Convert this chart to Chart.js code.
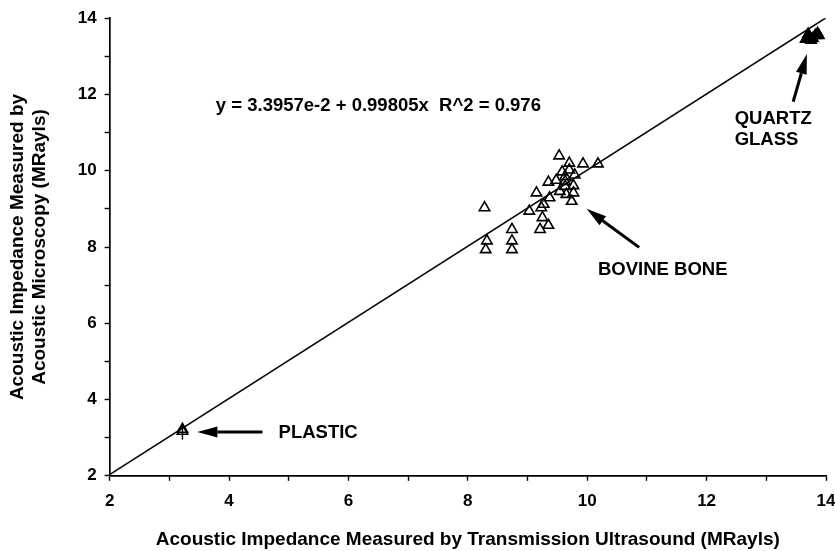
<!DOCTYPE html>
<html>
<head>
<meta charset="utf-8">
<script src="https://cdn.jsdelivr.net/npm/chart.js@4/dist/chart.umd.min.js"></script>
<style>
  html, body { margin: 0; padding: 0; background: #ffffff; }
  #wrap { width: 835px; height: 551px; position: relative; }
</style>
</head>
<body>
<div id="wrap"><canvas id="c"></canvas></div>
<script>
// ---- data (MRayls) ----
const boneX = [8.28, 8.32, 8.30, 8.74, 8.74, 8.74, 9.03, 9.23, 9.25, 9.21, 9.35,
               9.53, 9.70, 9.93, 10.18, 9.70, 9.79, 9.63, 9.35, 9.48, 9.63, 9.77,
               9.63, 9.54, 9.77, 9.15, 9.74, 9.37, 9.58, 9.27, 9.65];
const boneY = [9.03, 8.16, 7.93, 8.46, 8.16, 7.93, 8.94, 9.03, 8.77, 8.46, 8.57,
               10.39, 10.20, 10.18, 10.18, 10.02, 9.89, 9.85, 9.70, 9.75, 9.72, 9.61,
               9.59, 9.46, 9.42, 9.42, 9.20, 9.29, 9.97, 9.12, 9.38];
const quartzX = [13.66, 13.72, 13.78, 13.70, 13.82, 13.75, 13.88, 13.86];
const quartzY = [13.45, 13.52, 13.47, 13.58, 13.55, 13.42, 13.55, 13.60];
const plasticX = [3.22, 3.22];
const plasticY = [3.17, 3.22];
const plasticErr = [0.22, 0.0];
const fitX = [2, 14];
const fitY = [2.03, 14.01];
const xTicks = [2, 4, 6, 8, 10, 12, 14];
const yTicks = [2, 4, 6, 8, 10, 12, 14];

// ---- annotations (data units) ----
const noteText = ['y = 3.3957e-2 + 0.99805x  R^2 = 0.976', 'PLASTIC', 'BOVINE BONE', 'QUARTZ', 'GLASS'];
const noteX = [3.78, 4.83, 10.18, 12.47, 12.47];
const noteY = [11.69, 3.12, 7.41, 11.35, 10.82];
const arrowFromX = [4.56, 10.87, 13.45];
const arrowFromY = [3.15, 7.99, 11.81];
const arrowToX = [3.47, 9.99, 13.68];
const arrowToY = [3.15, 9.00, 13.06];

const FONT = "'Liberation Sans', Arial, Helvetica, sans-serif";

const toPts = (xs, ys) => xs.map((v, i) => ({ x: v, y: ys[i] }));

const annotPlugin = {
  id: 'annot',
  afterDatasetsDraw(chart) {
    const { ctx } = chart;
    const xs = chart.scales.x, ys = chart.scales.y;
    ctx.save();
    // error bars on plastic
    ctx.strokeStyle = '#000';
    ctx.lineWidth = 1.4;
    plasticX.forEach((v, i) => {
      if (!plasticErr[i]) return;
      const px = xs.getPixelForValue(v);
      const p1 = ys.getPixelForValue(plasticY[i] - plasticErr[i]);
      const p2 = ys.getPixelForValue(plasticY[i] + plasticErr[i]);
      ctx.beginPath(); ctx.moveTo(px, p1); ctx.lineTo(px, p2); ctx.stroke();
    });
    // arrows
    ctx.fillStyle = '#000';
    arrowFromX.forEach((v, i) => {
      const x1 = xs.getPixelForValue(v), y1 = ys.getPixelForValue(arrowFromY[i]);
      const x2 = xs.getPixelForValue(arrowToX[i]), y2 = ys.getPixelForValue(arrowToY[i]);
      const ang = Math.atan2(y2 - y1, x2 - x1);
      const hl = 20, hw = 5.5;
      const bx = x2 - Math.cos(ang) * hl, by = y2 - Math.sin(ang) * hl;
      ctx.lineWidth = 3;
      ctx.beginPath(); ctx.moveTo(x1, y1); ctx.lineTo(bx, by); ctx.stroke();
      ctx.beginPath();
      ctx.moveTo(x2, y2);
      ctx.lineTo(bx + Math.sin(ang) * hw, by - Math.cos(ang) * hw);
      ctx.lineTo(bx - Math.sin(ang) * hw, by + Math.cos(ang) * hw);
      ctx.closePath(); ctx.fill();
    });
    // texts
    ctx.textAlign = 'left';
    ctx.textBaseline = 'middle';
    noteText.forEach((t, i) => {
      ctx.font = 'bold 18.5px ' + FONT;
      ctx.fillText(t, xs.getPixelForValue(noteX[i]), ys.getPixelForValue(noteY[i]));
    });
    ctx.restore();
  }
};

const tri = { pointStyle: 'triangle', pointRadius: 6, pointHoverRadius: 6,
              borderColor: '#000', borderWidth: 1.6, backgroundColor: 'rgba(0,0,0,0)' };

new Chart(document.getElementById('c'), {
  type: 'scatter',
  data: {
    datasets: [
      { label: 'fit', data: toPts(fitX, fitY), showLine: true, pointRadius: 0,
        borderColor: '#000', borderWidth: 1.6, fill: false, order: 5 },
      Object.assign({ label: 'bone', data: toPts(boneX, boneY) }, tri),
      Object.assign({ label: 'plastic', data: toPts(plasticX, plasticY) }, tri),
      Object.assign({ label: 'quartz', data: toPts(quartzX, quartzY) }, tri,
        { backgroundColor: '#000', borderWidth: 1.6, clip: false })
    ]
  },
  options: {
    responsive: true,
    maintainAspectRatio: false,
    animation: false,
    events: [],
    layout: { padding: { left: 0, right: 0, top: 14, bottom: 0 } },
    plugins: { legend: { display: false }, tooltip: { enabled: false } },
    scales: {
      x: {
        type: 'linear', min: 2, max: 14,
        afterFit: s => { s.paddingRight = 9; },
        border: { display: true, color: '#000', width: 1.7 },
        grid: { drawOnChartArea: false, drawTicks: true, tickLength: 5, tickColor: '#000', tickWidth: 1.4 },
        ticks: { stepSize: 1, autoSkip: false, maxRotation: 0, color: '#000', padding: 10,
                 font: { family: FONT, size: 17, weight: 'bold' },
                 callback: v => xTicks.includes(v) ? String(v) : '' },
        title: { display: true, text: 'Acoustic Impedance Measured by Transmission Ultrasound (MRayls)',
                 color: '#000', font: { family: FONT, size: 19, weight: 'bold' },
                 padding: { top: 7, bottom: 0 } }
      },
      y: {
        type: 'linear', min: 2, max: 14,
        border: { display: true, color: '#000', width: 1.7 },
        grid: { drawOnChartArea: false, drawTicks: true, tickLength: 5, tickColor: '#000', tickWidth: 1.4 },
        ticks: { stepSize: 1, autoSkip: false, color: '#000', padding: 8,
                 font: { family: FONT, size: 17, weight: 'bold' },
                 callback: v => yTicks.includes(v) ? String(v) : '' },
        title: { display: true, text: ['Acoustic Impedance Measured by', 'Acoustic Microscopy (MRayls)'],
                 color: '#000', font: { family: FONT, size: 19, weight: 'bold', lineHeight: 1.15 },
                 padding: { top: 7, bottom: 19 } }
      }
    }
  },
  plugins: [annotPlugin]
});
</script>
</body>
</html>
